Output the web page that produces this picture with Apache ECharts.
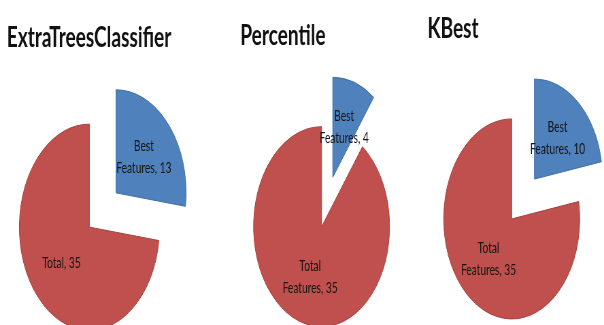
<!DOCTYPE html>
<html>
<head>
<meta charset="utf-8">
<script src="https://cdn.jsdelivr.net/npm/echarts@6/dist/echarts.min.js"></script>
<style>
  html, body { margin: 0; padding: 0; background: #fff; overflow: hidden; }
  #wrap { width: 604px; height: 325px; overflow: hidden; }
  /* the chart is laid out wide and then narrowed, giving the tall oval pies */
  #chart { width: 888px; height: 325px; transform: scaleX(0.6802); transform-origin: 0 0; }
</style>
</head>
<body>
<div id="wrap"><div id="chart"></div></div>
<script>
// Feature-selection comparison: selected features vs. total features
const pieTitles = ['ExtraTreesClassifier', 'Percentile', 'KBest'];
const bestNames = ['Best\nFeatures', 'Best\nFeatures', 'Best\nFeatures'];
const totalNames = ['Total', 'Total\nFeatures', 'Total\nFeatures'];
const bestFeatures = [13, 4, 10];
const totalFeatures = [35, 35, 35];

// layout (in the un-narrowed chart space)
const pieCenters = [[151, 210], [481, 202], [769, 199]];
const pieRadii = [103, 100, 100];
const titlePos = [[131, 38], [416, 36], [666, 29]];

const BLUE = '#4f81bd';
const RED = '#c0504d';

const chart = echarts.init(document.getElementById('chart'), null, { renderer: 'canvas' });

const series = pieTitles.map((t, i) => ({
  type: 'pie',
  name: t,
  center: pieCenters[i],
  radius: [0, pieRadii[i]],
  startAngle: 90,
  clockwise: true,
  selectedMode: 'multiple',
  selectedOffset: 26,
  animation: false,
  silent: true,
  emphasis: { disabled: true },
  label: {
    show: true,
    position: 'inside',
    formatter: '{b}, {c}',
    fontFamily: 'Lato, "Liberation Sans", sans-serif',
    fontSize: 15,
    lineHeight: 22,
    color: '#141414',
    align: 'center'
  },
  labelLine: { show: false },
  data: [
    { name: bestNames[i], value: bestFeatures[i], selected: true,
      itemStyle: { color: BLUE, borderColor: '#3f6ea6', borderWidth: 1 } },
    { name: totalNames[i], value: totalFeatures[i], selected: true,
      itemStyle: { color: RED, borderColor: '#a8403d', borderWidth: 1 } }
  ]
}));

const titles = pieTitles.map((t, i) => ({
  type: 'text',
  x: titlePos[i][0],
  y: titlePos[i][1],
  style: {
    text: t,
    fill: '#111',
    font: 'bold 28px Lato, "Liberation Sans", sans-serif',
    textAlign: 'center',
    textVerticalAlign: 'middle'
  }
}));

chart.setOption({
  backgroundColor: '#ffffff',
  animation: false,
  series: series,
  graphic: titles
});
</script>
</body>
</html>
